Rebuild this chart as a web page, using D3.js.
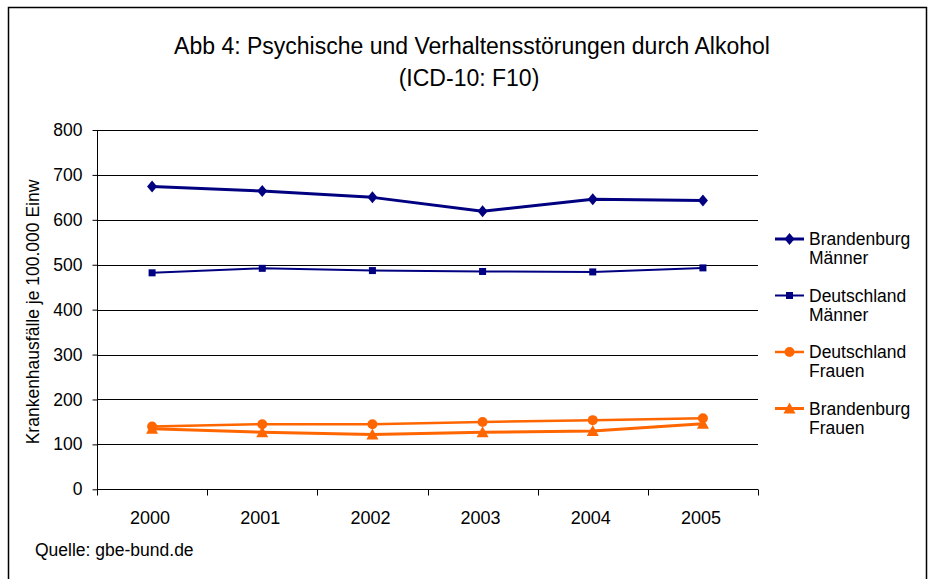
<!DOCTYPE html>
<html>
<head>
<meta charset="utf-8">
<script src="https://cdn.jsdelivr.net/npm/d3@7"></script>
<style>
  body { margin: 0; background: #fff; }
  svg { display: block; font-family: "Liberation Sans", Arial, sans-serif; }
</style>
</head>
<body>
<svg width="936" height="579"></svg>
<script>
const years = ["2000", "2001", "2002", "2003", "2004", "2005"];
const yTicks = [0, 100, 200, 300, 400, 500, 600, 700, 800];

const brandenburgMaenner = [674, 664, 650, 619, 646, 643];
const deutschlandMaenner = [482, 492, 487, 485, 484, 493];
const deutschlandFrauen = [140, 145, 145, 150, 154, 158];
const brandenburgFrauen = [135, 127, 122, 127, 130, 146];

const series = [
    {name: ["Brandenburg", "Männer"], values: brandenburgMaenner, color: "#000080", width: 3, marker: "diamond"},
    {name: ["Deutschland", "Männer"], values: deutschlandMaenner, color: "#000080", width: 2, marker: "square"},
    {name: ["Deutschland", "Frauen"], values: deutschlandFrauen, color: "#FF6600", width: 2.5, marker: "circle"},
    {name: ["Brandenburg", "Frauen"], values: brandenburgFrauen, color: "#FF6600", width: 3, marker: "triangle"},
];

const svg = d3.select("svg");

// outer frame
svg.append("rect")
    .attr("x", 8.5).attr("y", 7.5)
    .attr("width", 918).attr("height", 600)
    .attr("fill", "none").attr("stroke", "#000").attr("stroke-width", 1.5);

// title
svg.append("text")
    .attr("x", 472).attr("y", 54)
    .attr("text-anchor", "middle")
    .style("font-size", "23px")
    .text("Abb 4: Psychische und Verhaltensstörungen durch Alkohol");
svg.append("text")
    .attr("x", 469).attr("y", 86)
    .attr("text-anchor", "middle")
    .style("font-size", "23px")
    .text("(ICD-10: F10)");

const plotLeft = 97, plotRight = 758, plotTop = 130, plotBottom = 489.3;

const x = d3.scaleBand().domain(years).range([plotLeft, plotRight]);
const y = d3.scaleLinear().domain([0, 800]).range([plotBottom, plotTop]);

// gridlines
svg.append("g")
    .selectAll("line")
    .data(yTicks.filter(d => d > 0))
    .join("line")
    .attr("x1", plotLeft).attr("x2", plotRight)
    .attr("y1", d => Math.round(y(d)) + 0.5)
    .attr("y2", d => Math.round(y(d)) + 0.5)
    .attr("stroke", "#000").attr("stroke-width", 1);

// y axis
const yAxis = svg.append("g")
    .attr("transform", `translate(${plotLeft + 0.5},0)`)
    .call(d3.axisLeft(y).tickValues(yTicks).tickSize(5).tickPadding(10).tickFormat(d3.format("d")));
yAxis.attr("font-family", null).attr("font-size", null);
yAxis.select(".domain").attr("stroke", "#000").attr("d", `M0,${plotTop}V${plotBottom}`);
yAxis.selectAll(".tick line").attr("stroke", "#000");
yAxis.selectAll(".tick text").style("font-size", "17.5px").attr("fill", "#000");

// x axis
const xAxis = svg.append("g")
    .attr("transform", `translate(0,${Math.round(plotBottom) + 0.5})`);
xAxis.append("line")
    .attr("x1", plotLeft).attr("x2", plotRight)
    .attr("stroke", "#000");
xAxis.selectAll("line.tick")
    .data(years.map(d => x(d)).concat([plotRight]))
    .join("line")
    .attr("class", "tick")
    .attr("x1", d => Math.round(d) + 0.5).attr("x2", d => Math.round(d) + 0.5)
    .attr("y1", 0).attr("y2", 6)
    .attr("stroke", "#000");
xAxis.selectAll("text")
    .data(years)
    .join("text")
    .attr("x", d => x(d) + x.bandwidth() / 2 - 2)
    .attr("y", 34)
    .attr("text-anchor", "middle")
    .style("font-size", "18px")
    .text(d => d);

// y label
svg.append("text")
    .attr("transform", "translate(38.5,312) rotate(-90)")
    .attr("text-anchor", "middle")
    .style("font-size", "17.5px")
    .text("Krankenhausfälle je 100.000 Einw");

// markers
function drawMarker(g, type, color) {
    if (type === "diamond") {
        g.append("path").attr("d", "M0,-6L5,0L0,6L-5,0Z").attr("fill", color);
    } else if (type === "square") {
        g.append("rect").attr("x", -3.5).attr("y", -3.5).attr("width", 7).attr("height", 7).attr("fill", color);
    } else if (type === "circle") {
        g.append("circle").attr("r", 5).attr("fill", color);
    } else if (type === "triangle") {
        g.append("path").attr("d", "M0,-6L6,5L-6,5Z").attr("fill", color);
    }
}

const cx = d => x(d) + x.bandwidth() / 2;
const line = d3.line().x((v, i) => cx(years[i])).y(v => y(v));

series.forEach(s => {
    svg.append("path")
        .attr("d", line(s.values))
        .attr("fill", "none")
        .attr("stroke", s.color)
        .attr("stroke-width", s.width)
        .attr("stroke-linejoin", "round");
    s.values.forEach((v, i) => {
        const g = svg.append("g").attr("transform", `translate(${cx(years[i])},${y(v)})`);
        drawMarker(g, s.marker, s.color);
    });
});

// legend
const legend = svg.append("g");
series.forEach((s, i) => {
    const ly = 239 + i * 56.5;
    const g = legend.append("g").attr("transform", `translate(0,${ly})`);
    g.append("line")
        .attr("x1", 775).attr("x2", 804)
        .attr("stroke", s.color).attr("stroke-width", s.width);
    const m = g.append("g").attr("transform", "translate(789.5,0)");
    drawMarker(m, s.marker, s.color);
    g.append("text")
        .attr("x", 809).attr("y", 6)
        .style("font-size", "17.5px")
        .text(s.name[0]);
    g.append("text")
        .attr("x", 809).attr("y", 25)
        .style("font-size", "17.5px")
        .text(s.name[1]);
});

// source
svg.append("text")
    .attr("x", 35).attr("y", 556)
    .style("font-size", "17.5px")
    .text("Quelle: gbe-bund.de");
</script>
</body>
</html>
